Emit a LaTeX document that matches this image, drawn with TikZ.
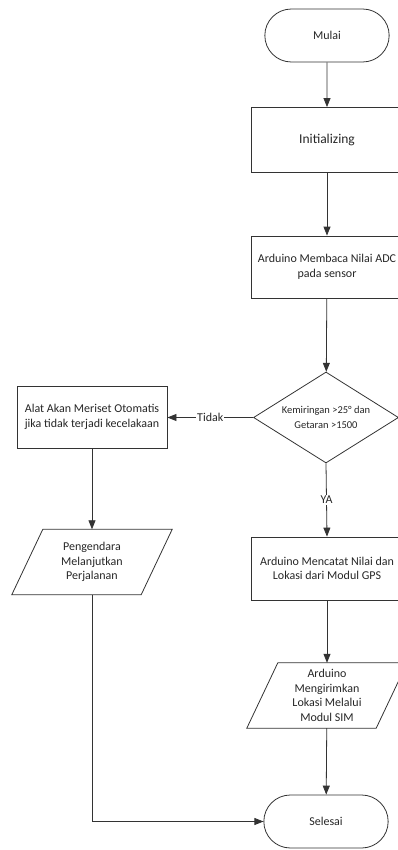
\documentclass[tikz,border=0pt]{standalone}
\usepackage{fontspec}
\setmainfont{Carlito}
\usetikzlibrary{arrows.meta,shapes.geometric,shapes.misc}
\begin{document}
\begin{tikzpicture}[x=1pt,y=-1pt,
  line/.style={draw=black!80, line width=0.8pt},
  arr/.style={line, -{Triangle[length=9pt,width=7pt]}},
  txt/.style={font=\fontsize{12}{14.5}\selectfont, text=black!85, align=center},
  term/.style={rounded rectangle, line, txt, minimum width=131pt, minimum height=53pt},
  proc/.style={rectangle, line, txt, minimum width=152pt, minimum height=63pt},
  para/.style={rectangle, draw=none, txt, minimum width=129pt, minimum height=65pt, inner sep=0pt},
  lbl/.style={txt, fill=white, inner sep=1pt}
]
\useasboundingbox (0,0) rectangle (398,850);
\clip (0,0) rectangle (398,850);

\node[term] (mulai) at (327,35.5) {Mulai};
\node[proc, minimum height=65pt, font=\fontsize{13.5}{16}\selectfont] (init) at (327,140) {Initializing};
\node[proc, minimum height=62pt] (adc) at (327,267) {Arduino Membaca Nilai ADC\\pada sensor};
\node[diamond, line, minimum width=145pt, minimum height=91pt, inner sep=0pt,
      label={[txt, font=\fontsize{10.5}{14.5}\selectfont]center:Kemiringan >25° dan\\Getaran >1500}] (dec) at (326,417.5) {};
\node[proc, minimum width=150pt, minimum height=62pt] (reset) at (92,417) {Alat Akan Meriset Otomatis\\jika tidak terjadi kecelakaan};
\node[para] (p1) at (92,562) {Pengendara\\Melanjutkan\\Perjalanan};
\draw[line] ([xshift=15.5pt]p1.north west) -- ([xshift=15.5pt]p1.north east)
  -- ([xshift=-15.5pt]p1.south east) -- ([xshift=-15.5pt]p1.south west) -- cycle;
\node[proc, minimum height=63pt] (gps) at (327,568.5) {Arduino Mencatat Nilai dan\\Lokasi dari Modul GPS};
\node[para] (p2) at (327,695.5) {Arduino\\Mengirimkan\\Lokasi Melalui\\Modul SIM};
\draw[line] ([xshift=15.5pt]p2.north west) -- ([xshift=15.5pt]p2.north east)
  -- ([xshift=-15.5pt]p2.south east) -- ([xshift=-15.5pt]p2.south west) -- cycle;
\node[term] (selesai) at (326,821.5) {Selesai};

\draw[arr] (mulai) -- (init);
\draw[arr] (init) -- (adc);
\draw[arr] (adc) -- (dec);
\draw[arr] (dec.west) -- node[lbl] {Tidak} (reset.east |- dec.west);
\draw[arr] (dec.south) -- node[lbl] {YA} (gps.north);
\draw[arr] (reset) -- (p1);
\draw[arr] (gps) -- (p2);
\draw[arr] (p2) -- (selesai);
\draw[arr] (p1.south) |- (selesai.west);
\end{tikzpicture}
\end{document}
